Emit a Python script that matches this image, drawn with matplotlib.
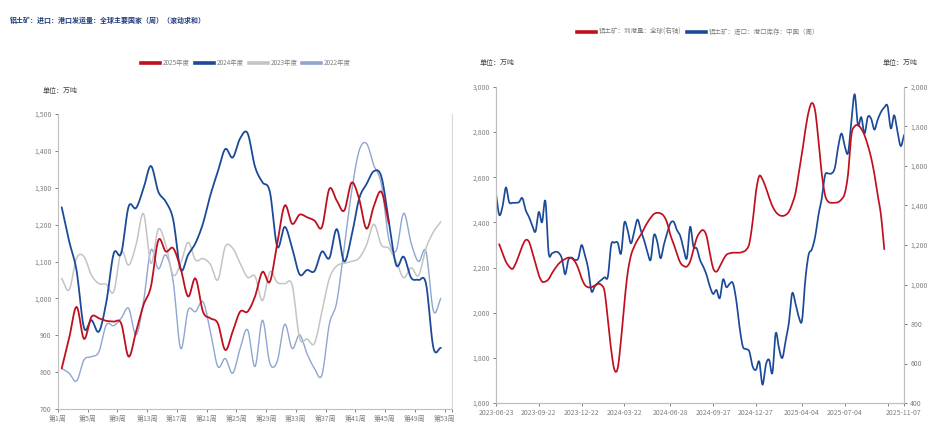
import numpy as np
import pandas as pd
import matplotlib
matplotlib.use("Agg")
import matplotlib.pyplot as plt
import matplotlib.dates as mdates
from matplotlib.ticker import FuncFormatter
from matplotlib.lines import Line2D

plt.rcParams['font.family'] = ['Noto Sans CJK SC', 'DejaVu Sans']

# ---------------- 左图：港口发运量（周，滚动求和） ----------------
weeks = list(range(1, 53))
week_labels = [f"第{w}周" for w in range(1, 54, 4)]

y2025 = [810, 892, 977, 890, 950, 946, 939, 937, 932, 842,
         910, 982, 1032, 1158, 1127, 1136, 1081, 1005, 1054, 964,
         946, 932, 860, 910, 964, 964, 1005, 1072, 1045, 1150,
         1252, 1202, 1227, 1220, 1211, 1193, 1297, 1265, 1238, 1314,
         1270, 1189, 1251, 1289, 1203]
y2024 = [1247, 1155, 1075, 920, 941, 910, 990, 1122, 1122, 1249,
         1245, 1298, 1359, 1289, 1262, 1213, 1078, 1118, 1150, 1203,
         1280, 1344, 1405, 1382, 1434, 1448, 1357, 1315, 1289, 1140,
         1194, 1136, 1065, 1077, 1074, 1127, 1109, 1188, 1100, 1170,
         1270, 1310, 1345, 1330, 1210, 1090, 1113, 1056, 1050, 1040,
         866, 866]
y2023 = [1054, 1023, 1109, 1113, 1063, 1040, 1038, 1018, 1127, 1090,
         1145, 1230, 1095, 1188, 1145, 1063, 1095, 1152, 1104, 1108,
         1092, 1050, 1140, 1136, 1095, 1057, 1060, 994, 1072, 1043,
         1040, 1036, 892, 890, 878, 964, 1054, 1088, 1095, 1100,
         1109, 1145, 1201, 1145, 1136, 1100, 1056, 1083, 1062, 1136,
         1180, 1208]
y2022 = [810, 797, 776, 833, 842, 855, 928, 926, 946, 973,
         901, 991, 1131, 1080, 1118, 1045, 864, 968, 964, 991,
         910, 815, 837, 797, 864, 915, 815, 941, 824, 830,
         930, 864, 901, 850, 810, 792, 930, 990, 1140, 1290,
         1400, 1420, 1360, 1310, 1160, 1130, 1231, 1150, 1100, 1127,
         966, 1000]

# ---------------- 右图：到港量 vs 港口库存 ----------------
inv_start = "2023-06-23"
inventory = [2528, 2433, 2472, 2555, 2490, 2487, 2487, 2490, 2508, 2455,
             2425, 2388, 2359, 2447, 2400, 2496, 2265, 2263, 2270, 2266,
             2241, 2170, 2234, 2244, 2234, 2241, 2300, 2256, 2197, 2095,
             2116, 2133, 2145, 2157, 2160, 2300, 2310, 2310, 2262, 2399,
             2366, 2307, 2359, 2413, 2366, 2322, 2270, 2234, 2344, 2315,
             2241, 2300, 2352, 2396, 2403, 2366, 2340, 2285, 2241, 2381,
             2293, 2285, 2234, 2204, 2167, 2116, 2083, 2101, 2064, 2148,
             2113, 2128, 2131, 2057, 1939, 1851, 1839, 1828, 1762, 1747,
             1784, 1681, 1769, 1792, 1733, 1909, 1843, 1799, 1873, 1954,
             2086, 2042, 1983, 1965, 2145, 2256, 2281, 2337, 2433, 2506,
             2609, 2617, 2617, 2643, 2735, 2794, 2738, 2708, 2850, 2968,
             2831, 2867, 2794, 2867, 2860, 2811, 2855, 2889, 2909, 2916,
             2816, 2875, 2805, 2738, 2786]
arr_start = "2023-06-30"
arrivals = [1203, 1158, 1116, 1091, 1079, 1107, 1150, 1195, 1225, 1217,
            1166, 1107, 1048, 1015, 1015, 1027, 1057, 1082, 1104, 1119,
            1129, 1136, 1133, 1116, 1082, 1032, 998, 986, 986, 995,
            1003, 998, 964, 821, 670, 568, 577, 720, 905, 1057,
            1146, 1192, 1225, 1251, 1284, 1313, 1338, 1357, 1363, 1360,
            1347, 1313, 1251, 1205, 1155, 1111, 1094, 1091, 1116, 1175,
            1235, 1265, 1275, 1245, 1158, 1082, 1065, 1091, 1124, 1150,
            1158, 1161, 1161, 1161, 1165, 1175, 1208, 1318, 1469, 1549,
            1532, 1491, 1441, 1397, 1368, 1352, 1347, 1352, 1368, 1407,
            1461, 1562, 1663, 1781, 1874, 1919, 1879, 1731, 1562, 1453,
            1419, 1414, 1414, 1417, 1431, 1461, 1559, 1756, 1801, 1806,
            1789, 1756, 1705, 1643, 1559, 1453, 1352, 1180]
date_ticks = ["2023-06-23", "2023-09-22", "2023-12-22", "2024-03-22",
              "2024-06-28", "2024-09-27", "2024-12-27", "2025-04-04",
              "2025-07-04", "2025-10-03", "2025-11-07"]
date_labels = ["2023-06-23", "2023-09-22", "2023-12-22", "2024-03-22",
               "2024-06-28", "2024-09-27", "2024-12-27", "2025-04-04",
               "2025-07-04", "", "2025-11-07"]

RED = "#c00f1e"
NAVY = "#1b4a98"
GREY = "#c4c4c4"
LIGHT = "#8ea6d0"
AXC = "#bfbfbf"
TXT = "#808080"


def smooth(x, y, n=10):
    """Catmull-Rom 曲线，只用于画线更平滑"""
    x = np.asarray(x, float)
    y = np.asarray(y, float)
    xp = np.concatenate([[2 * x[0] - x[1]], x, [2 * x[-1] - x[-2]]])
    yp = np.concatenate([[2 * y[0] - y[1]], y, [2 * y[-1] - y[-2]]])
    t = np.linspace(0, 1, n, endpoint=False)
    t2, t3 = t * t, t * t * t
    ox, oy = [], []
    for i in range(len(x) - 1):
        for src, dst in ((xp, ox), (yp, oy)):
            a, b, c, d = src[i:i + 4]
            dst.extend(0.5 * (2 * b + (-a + c) * t + (2 * a - 5 * b + 4 * c - d) * t2
                              + (-a + 3 * b - 3 * c + d) * t3))
    ox.append(x[-1])
    oy.append(y[-1])
    return np.array(ox), np.array(oy)


def style_axis(ax):
    ax.spines['top'].set_visible(False)
    for s in ('left', 'right', 'bottom'):
        ax.spines[s].set_color(AXC)
        ax.spines[s].set_linewidth(0.8)
    ax.tick_params(axis='both', colors='#7f7f7f', labelcolor=TXT,
                   labelsize=5, length=2.5, width=0.7, pad=2)


fmt = FuncFormatter(lambda v, p: f"{v:,.0f}")

fig = plt.figure(figsize=(9.41, 4.4), dpi=100)

# ---- 左图 ----
ax = fig.add_axes([58 / 941, 1 - 409 / 440, 394 / 941, 295 / 440])
series = [(y2022, LIGHT, 1.0), (y2023, GREY, 1.1),
          (y2024, NAVY, 1.3), (y2025, RED, 1.3)]
for vals, col, lw in series:
    xs = np.arange(len(vals)) + 0.5
    sx, sy = smooth(xs, vals)
    ax.plot(sx, sy, color=col, lw=lw, solid_capstyle='round')
ax.set_xlim(0, 53)
ax.set_ylim(700, 1500)
ax.set_yticks(range(700, 1501, 100))
ax.yaxis.set_major_formatter(fmt)
ax.set_xticks(list(range(0, 53, 4)) + [53])
ax.set_xticklabels(week_labels + [""])
style_axis(ax)
ax.spines['right'].set_color('#d9d9d9')

fig.text(10 / 941, 1 - 20 / 440, "铝土矿：进口：港口发运量：全球主要国家（周）（滚动求和）",
         fontsize=5.0, fontweight='bold', color='#1f3c7c', va='center', ha='left')
fig.text(43 / 941, 1 - 91 / 440, "单位：万吨", fontsize=5, color='#404040',
         va='center', ha='left')
handles = [Line2D([], [], color=c, lw=2.6) for c in (RED, NAVY, GREY, LIGHT)]
fig.legend(handles, ["2025年度", "2024年度", "2023年度", "2022年度"],
           loc='center', bbox_to_anchor=(246 / 941, 1 - 63 / 440), ncol=4,
           frameon=False, fontsize=4.6, handlelength=3.0, columnspacing=0.8,
           handletextpad=0.4, labelcolor='#7f7f7f')

# ---- 右图 ----
bx = fig.add_axes([496 / 941, 1 - 403 / 440, 408 / 941, 316 / 440])
bx2 = bx.twinx()
inv_dates = pd.date_range(inv_start, periods=len(inventory), freq="7D")
arr_dates = pd.date_range(arr_start, periods=len(arrivals), freq="7D")
sx, sy = smooth(mdates.date2num(inv_dates), inventory, n=6)
bx.plot(sx, sy, color=NAVY, lw=1.25)
sx, sy = smooth(mdates.date2num(arr_dates), arrivals, n=6)
bx2.plot(sx, sy, color=RED, lw=1.25)

bx.set_xlim(mdates.date2num(pd.Timestamp(inv_start)),
            mdates.date2num(pd.Timestamp("2025-11-07")))
bx.set_ylim(1600, 3000)
bx.set_yticks(range(1600, 3001, 200))
bx2.set_ylim(400, 2000)
bx2.set_yticks(range(400, 2001, 200))
bx.yaxis.set_major_formatter(fmt)
bx2.yaxis.set_major_formatter(fmt)
bx.set_xticks(mdates.date2num(pd.to_datetime(date_ticks)))
bx.set_xticklabels(date_labels)
style_axis(bx)
style_axis(bx2)

fig.text(480 / 941, 1 - 63 / 440, "单位：万吨", fontsize=5, color='#404040',
         va='center', ha='left')
fig.text(918 / 941, 1 - 63 / 440, "单位：万吨", fontsize=5, color='#404040',
         va='center', ha='right')
handles = [Line2D([], [], color=c, lw=2.6) for c in (RED, NAVY)]
fig.legend(handles, ["铝土矿：到港量：全球(右轴)", "铝土矿：进口：港口库存：中国（周）"],
           loc='center', bbox_to_anchor=(698 / 941, 1 - 32 / 440), ncol=2,
           frameon=False, fontsize=4.7, handlelength=3.0, columnspacing=0.8,
           handletextpad=0.4, labelcolor='#7f7f7f')

fig.savefig("out.png", dpi=100)
